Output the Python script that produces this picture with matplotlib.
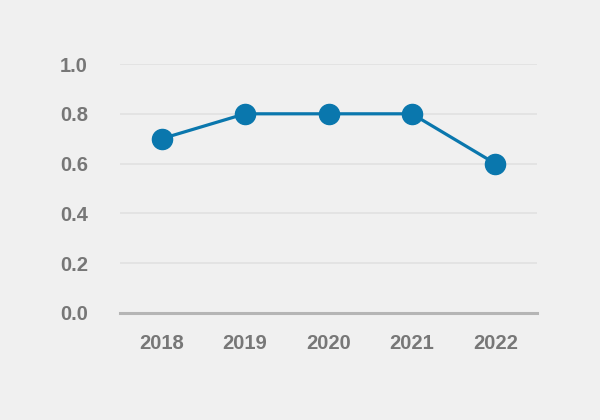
import matplotlib.pyplot as plt

years = ['2018', '2019', '2020', '2021', '2022']
values = [0.7, 0.8, 0.8, 0.8, 0.6]
yticks = [0.0, 0.2, 0.4, 0.6, 0.8, 1.0]

bg = '#f0f0f0'
fig = plt.figure(figsize=(6, 4.2), dpi=100, facecolor=bg)
ax = fig.add_axes([0.2, 0.2548, 0.695, 0.5928], facecolor=bg)

x = range(len(years))
ax.plot(x, values, color='#0a77ad', lw=2.3, marker='o', markersize=14.5, zorder=3)

ax.set_xlim(-0.5, len(years) - 0.5)
ax.set_ylim(0, 1.0)
ax.set_yticks(yticks)
ax.set_yticklabels([f'{v:.1f}' for v in yticks])
ax.set_xticks(list(x))
ax.set_xticklabels(years)

ax.grid(axis='y', color='#e2e2e2', lw=1.3)
ax.set_axisbelow(True)
for s in ['top', 'right', 'left']:
    ax.spines[s].set_visible(False)
ax.spines['bottom'].set_color('#b5b5b5')
ax.spines['bottom'].set_linewidth(2.2)
ax.spines['bottom'].set_zorder(2)

for lbl in ax.get_xticklabels() + ax.get_yticklabels():
    lbl.set_fontfamily(['Liberation Sans', 'DejaVu Sans'])
    lbl.set_fontweight('bold')
    lbl.set_fontsize(14.5)
    lbl.set_color('#777777')
ax.tick_params(axis='both', length=0)
ax.tick_params(axis='y', pad=23)
ax.tick_params(axis='x', pad=15)

fig.savefig('out.png', dpi=100, facecolor=bg)
